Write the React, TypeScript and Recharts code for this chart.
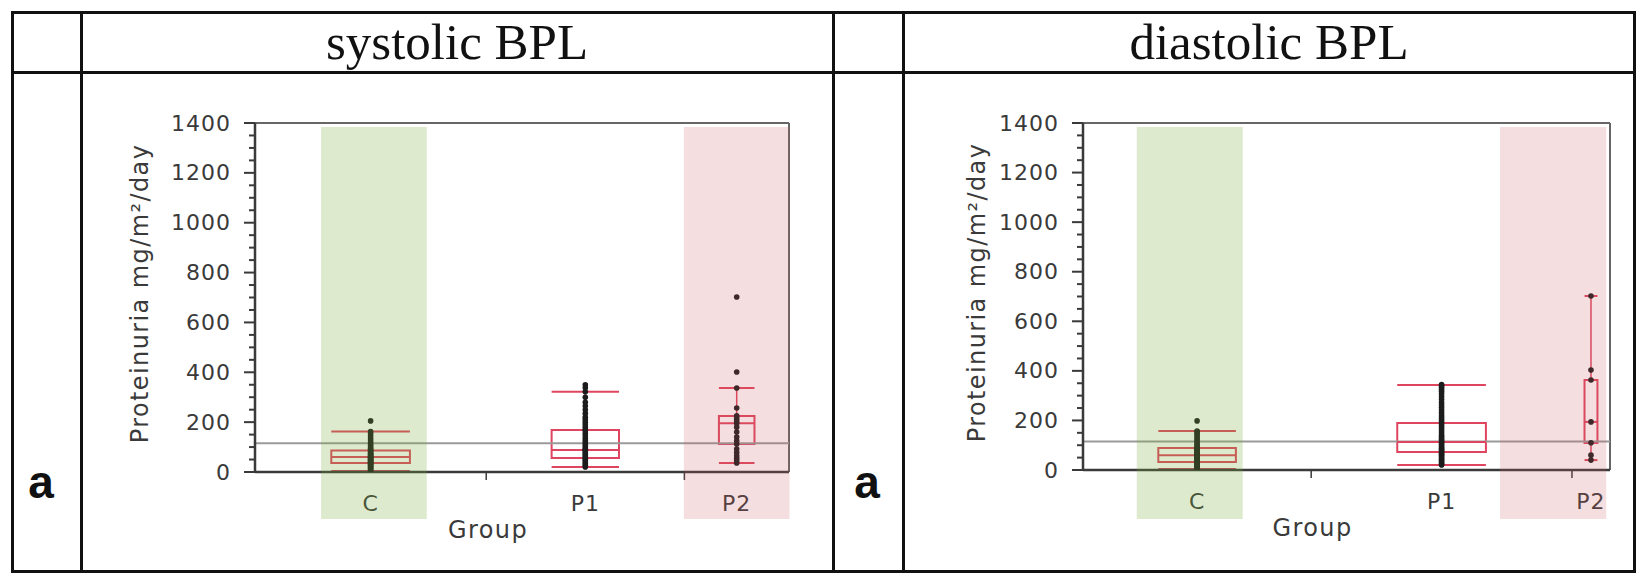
import React from "react";
import { ComposedChart, XAxis, YAxis, Scatter, ReferenceArea, ReferenceLine } from "recharts";

const groups = ["C", "P1", "P2"];
const yTicks = [0, 200, 400, 600, 800, 1000, 1200, 1400];
const normalLimit = 115;

// systolic BPL
const sysPointsC = [4, 8, 12, 15, 18, 22, 25, 28, 30, 33, 35, 37, 40, 42, 45, 47, 50, 52, 55, 58, 60, 62, 65, 68, 70, 73, 76, 80, 84, 86, 90, 95, 100, 106, 112, 120, 128, 136, 145, 155, 162, 205];
const sysPointsP1 = [20, 26, 32, 38, 45, 50, 56, 62, 68, 74, 80, 86, 90, 95, 102, 110, 118, 126, 135, 145, 155, 165, 170, 180, 190, 200, 210, 220, 235, 250, 265, 280, 300, 322, 338, 350];
const sysPointsP2 = [36, 45, 55, 65, 78, 92, 112, 125, 140, 160, 180, 196, 205, 215, 225, 257, 337, 401, 702];
const sysLow = [4, 20, 36];
const sysQ1 = [36, 56, 112];
const sysMedian = [60, 88, 196];
const sysQ3 = [86, 168, 225];
const sysHigh = [162, 322, 337];

// diastolic BPL
const diaPointsC = [3, 7, 10, 14, 17, 20, 23, 26, 29, 32, 34, 37, 40, 42, 45, 48, 50, 53, 56, 58, 60, 63, 66, 69, 72, 75, 78, 82, 86, 89, 93, 98, 104, 110, 116, 124, 132, 140, 148, 154, 157, 198];
const diaPointsP1 = [20, 24, 28, 33, 38, 43, 48, 53, 58, 63, 68, 73, 78, 83, 88, 93, 98, 104, 110, 113, 118, 124, 130, 136, 142, 150, 158, 166, 174, 182, 190, 198, 206, 214, 222, 232, 242, 252, 262, 272, 284, 296, 308, 318, 326, 334, 340, 345];
const diaPointsP2 = [40, 60, 110, 194, 363, 403, 702];
const diaLow = [4, 20, 40];
const diaQ1 = [32, 73, 109];
const diaMedian = [60, 113, 194];
const diaQ3 = [89, 190, 363];
const diaHigh = [157, 343, 702];

const FONT = '"DejaVu Sans", Verdana, sans-serif';
const TEXT = "#3a3a3a";
const BOX = "#e0455f";
const AXIS = "#3a3a3a";

type Band = { x1: number; x2: number; fill: string; opacity: number };

interface PanelProps {
  points: number[][];
  low: number[];
  q1: number[];
  median: number[];
  q3: number[];
  high: number[];
  left: number;
  width: number;
  height: number;
  yLabelX: number;
  bands: Band[];
  bandBottom: number;
}

function BoxPanel(p: PanelProps) {
  const sizes = p.points.map((a) => a.length);
  const total = sizes.reduce((s, n) => s + n, 0);
  const starts = sizes.map((_, i) => sizes.slice(0, i).reduce((s, n) => s + n, 0));
  const centers = sizes.map((n, i) => starts[i] + n / 2);
  const bounds = starts.slice(1);
  const half = sizes.map((n) => n * 0.17);
  const dots = p.points.flatMap((vals, i) => vals.map((v) => ({ x: centers[i], y: v })));
  const yMinor = yTicks.flatMap((t) => (t < 1400 ? [t, t + 50, t + 100, t + 150] : [t]));
  const xTicks = [...centers, ...bounds].sort((a, b) => a - b);

  const renderXTick = (props: any) => {
    const { x, y, payload } = props;
    const gi = centers.findIndex((c) => Math.abs(c - payload.value) < 1e-6);
    if (gi < 0) {
      return <line x1={x} x2={x} y1={y} y2={y + 8} stroke={AXIS} strokeWidth={1.5} />;
    }
    return (
      <text x={x} y={y + 31} textAnchor="middle" dominantBaseline="central" fontFamily={FONT} fontSize={22} letterSpacing={1} fill={TEXT}>
        {groups[gi]}
      </text>
    );
  };

  const renderYTick = (props: any) => {
    const { x, y, payload } = props;
    const major = payload.value % 200 === 0;
    return (
      <g>
        <line x1={x - (major ? 11 : 6)} x2={x} y1={y} y2={y} stroke={AXIS} strokeWidth={2} />
        {major && (
          <text x={x - 24} y={y} textAnchor="end" dominantBaseline="central" fontFamily={FONT} fontSize={22} letterSpacing={1} fill={TEXT}>
            {payload.value}
          </text>
        )}
      </g>
    );
  };

  const renderYLabel = (props: any) => {
    const vb = props.viewBox;
    const cx = vb.x + p.yLabelX;
    const cy = vb.y + vb.height / 2 - 4;
    return (
      <text x={cx} y={cy} transform={`rotate(-90, ${cx}, ${cy})`} textAnchor="middle" dominantBaseline="central" fontFamily={FONT} fontSize={24} letterSpacing={1.4} fill={TEXT}>
        Proteinuria mg/m²/day
      </text>
    );
  };

  const renderXLabel = (props: any) => {
    const vb = props.viewBox;
    return (
      <text x={vb.x + vb.width / 2 - 34} y={vb.y + 66} textAnchor="middle" fontFamily={FONT} fontSize={24} letterSpacing={1.4} fill={TEXT}>
        Group
      </text>
    );
  };

  return (
    <div style={{ position: "absolute", left: p.left, top: 80 }}>
      <ComposedChart width={p.width} height={p.height} margin={{ top: 43, right: 19, bottom: 28, left: 0 }}>
        <XAxis
          type="number"
          dataKey="x"
          domain={[0, total]}
          allowDataOverflow
          ticks={xTicks}
          interval={0}
          tick={renderXTick}
          tickLine={false}
          tickSize={0}
          tickMargin={0}
          axisLine={{ stroke: AXIS, strokeWidth: 2.5 }}
          height={60}
          label={renderXLabel}
        />
        <YAxis
          type="number"
          dataKey="y"
          domain={[0, 1400]}
          allowDataOverflow
          ticks={yMinor}
          interval={0}
          tick={renderYTick}
          tickLine={false}
          tickSize={0}
          tickMargin={0}
          axisLine={{ stroke: AXIS, strokeWidth: 2.5 }}
          width={167}
          label={renderYLabel}
        />
        <ReferenceLine y={1400} stroke="#666" strokeWidth={2} ifOverflow="visible" />
        <ReferenceLine x={total} stroke="#666" strokeWidth={2} ifOverflow="visible" />
        <ReferenceLine y={normalLimit} stroke="#9a9a9a" strokeWidth={2} ifOverflow="visible" />
        {centers.map((c, i) => (
          <React.Fragment key={groups[i]}>
            <ReferenceLine segment={[{ x: c, y: p.low[i] }, { x: c, y: p.q1[i] }]} stroke={BOX} strokeWidth={1.5} ifOverflow="visible" />
            <ReferenceLine segment={[{ x: c, y: p.q3[i] }, { x: c, y: p.high[i] }]} stroke={BOX} strokeWidth={1.5} ifOverflow="visible" />
            <ReferenceLine segment={[{ x: c - half[i], y: p.low[i] }, { x: c + half[i], y: p.low[i] }]} stroke={BOX} strokeWidth={2} ifOverflow="visible" />
            <ReferenceLine segment={[{ x: c - half[i], y: p.high[i] }, { x: c + half[i], y: p.high[i] }]} stroke={BOX} strokeWidth={2} ifOverflow="visible" />
            <ReferenceArea x1={c - half[i]} x2={c + half[i]} y1={p.q1[i]} y2={p.q3[i]} fill="none" fillOpacity={0} stroke={BOX} strokeWidth={2} ifOverflow="visible" />
            <ReferenceLine segment={[{ x: c - half[i], y: p.median[i] }, { x: c + half[i], y: p.median[i] }]} stroke={BOX} strokeWidth={2} ifOverflow="visible" />
          </React.Fragment>
        ))}
        <Scatter
          data={dots}
          dataKey="y"
          isAnimationActive={false}
          shape={(s: any) => <circle cx={s.cx} cy={s.cy} r={2.8} fill="#1c1c1c" />}
        />
        {p.bands.map((b, i) => (
          <ReferenceArea
            key={i}
            x1={b.x1}
            x2={b.x2}
            y1={p.bandBottom}
            y2={1384}
            fill={b.fill}
            fillOpacity={b.opacity}
            stroke="none"
            ifOverflow="visible"
            zIndex={2000}
          />
        ))}
      </ComposedChart>
    </div>
  );
}

export default function App() {
  const serif = '"Liberation Serif", "Times New Roman", serif';
  const sans = '"Liberation Sans", Arial, sans-serif';
  return (
    <div style={{ position: "absolute", left: 0, top: 0, width: 1636, height: 574, background: "#fff", overflow: "hidden" }}>
      <svg width={1636} height={574} style={{ position: "absolute", left: 0, top: 0 }}>
        <rect x={12.5} y={12.5} width={1622} height={559} fill="none" stroke="#111" strokeWidth={3} />
        <line x1={12} x2={1635} y1={72.5} y2={72.5} stroke="#111" strokeWidth={3} />
        <line x1={81.5} x2={81.5} y1={12} y2={573} stroke="#111" strokeWidth={3} />
        <line x1={833.5} x2={833.5} y1={12} y2={573} stroke="#111" strokeWidth={3} />
        <line x1={903.5} x2={903.5} y1={12} y2={573} stroke="#111" strokeWidth={3} />
        <text x={457} y={59} textAnchor="middle" fontFamily={serif} fontSize={51} fill="#111">systolic BPL</text>
        <text x={1269} y={59} textAnchor="middle" fontFamily={serif} fontSize={51} fill="#111">diastolic BPL</text>
        <text x={41} y={498} textAnchor="middle" fontFamily={sans} fontWeight="bold" fontSize={46} fill="#111">a</text>
        <text x={867} y={498} textAnchor="middle" fontFamily={sans} fontWeight="bold" fontSize={46} fill="#111">a</text>
      </svg>
      <BoxPanel
        points={[sysPointsC, sysPointsP1, sysPointsP2]}
        low={sysLow}
        q1={sysQ1}
        median={sysMedian}
        q3={sysQ3}
        high={sysHigh}
        left={88}
        width={720}
        height={480}
        yLabelX={52}
        bandBottom={-189}
        bands={[
          { x1: 12.0, x2: 31.2, fill: "#78aa3c", opacity: 0.25 },
          { x1: 77.9, x2: 97.1, fill: "#c85a5f", opacity: 0.2 },
        ]}
      />
      <BoxPanel
        points={[diaPointsC, diaPointsP1, diaPointsP2]}
        low={diaLow}
        q1={diaQ1}
        median={diaMedian}
        q3={diaQ3}
        high={diaHigh}
        left={916}
        width={713}
        height={478}
        yLabelX={61}
        bandBottom={-198}
        bands={[
          { x1: 9.9, x2: 29.4, fill: "#78aa3c", opacity: 0.25 },
          { x1: 76.75, x2: 96.3, fill: "#c85a5f", opacity: 0.2 },
        ]}
      />
    </div>
  );
}
